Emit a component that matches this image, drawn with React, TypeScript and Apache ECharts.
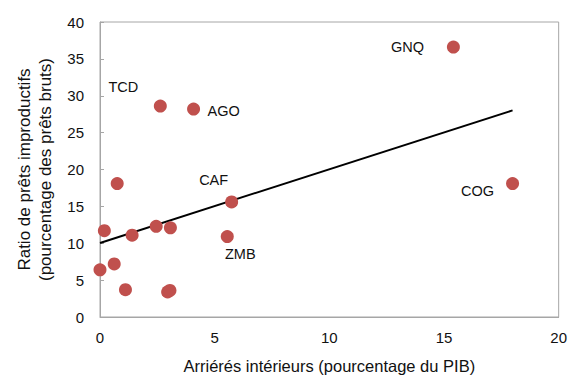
import React, { useEffect, useRef } from "react";
import * as echarts from "echarts";

// Domestic arrears (% of GDP)
const arrears: number[] = [0.0, 0.62, 1.11, 0.19, 1.4, 0.75, 2.63, 4.08, 2.45, 3.07, 2.95, 3.05, 5.74, 5.55, 15.41, 17.99];
// Non-performing loans ratio (% of gross loans)
const npl: number[] = [6.4, 7.2, 3.7, 11.7, 11.1, 18.1, 28.6, 28.2, 12.3, 12.1, 3.4, 3.6, 15.6, 10.9, 36.6, 18.1];
// Country codes ('' = unlabelled)
const codes: string[] = ["", "", "", "", "", "", "TCD", "AGO", "", "", "", "", "CAF", "ZMB", "GNQ", "COG"];

const xTicks = { min: 0, max: 20, interval: 5 };
const yTicks = { min: 0, max: 40, interval: 5 };

// label offsets (style only)
const labelOffsets: Record<string, [number, number]> = {
  TCD: [-37, -19],
  AGO: [30, 2],
  CAF: [-18, -22],
  ZMB: [13, 17],
  GNQ: [-46, 0],
  COG: [-35, 7],
};

function regression(xs: number[], ys: number[]) {
  const n = xs.length;
  const mx = xs.reduce((a, b) => a + b, 0) / n;
  const my = ys.reduce((a, b) => a + b, 0) / n;
  let sxy = 0;
  let sxx = 0;
  for (let i = 0; i < n; i++) {
    sxy += (xs[i] - mx) * (ys[i] - my);
    sxx += (xs[i] - mx) * (xs[i] - mx);
  }
  const slope = sxy / sxx;
  const intercept = my - slope * mx;
  return { slope, intercept };
}

const FONT = "'Liberation Sans', Arial, sans-serif";

export default function App() {
  const ref = useRef<HTMLDivElement>(null);
  useEffect(() => {
    if (!ref.current) return;
    const chart = echarts.init(ref.current, undefined, { renderer: "svg" });
    const { slope, intercept } = regression(arrears, npl);
    const xMin = Math.min(...arrears);
    const xMax = Math.max(...arrears);
    const points = arrears.map((x, i) => {
      const code = codes[i];
      const item: any = { value: [x, npl[i]], name: code };
      if (code) {
        item.label = {
          show: true,
          formatter: code,
          position: "inside",
          offset: labelOffsets[code] || [0, 0],
          color: "#111",
          fontSize: 14.5,
          fontFamily: FONT,
        };
      }
      return item;
    });
    chart.setOption({
      animation: false,
      textStyle: { fontFamily: FONT },
      grid: {
        left: 100,
        right: 8,
        top: 22,
        bottom: 61,
        show: true,
        borderColor: "#a6a6a6",
        borderWidth: 1,
      },
      xAxis: {
        type: "value",
        min: xTicks.min,
        max: xTicks.max,
        interval: xTicks.interval,
        name: "Arriérés intérieurs (pourcentage du PIB)",
        nameLocation: "middle",
        nameGap: 40,
        nameTextStyle: { fontSize: 16.5, color: "#111", fontFamily: FONT },
        axisLine: { show: true, lineStyle: { color: "#a6a6a6" } },
        axisTick: { show: false },
        splitLine: { show: false },
        axisLabel: { fontSize: 15, color: "#111", margin: 13, fontFamily: FONT },
      },
      yAxis: {
        type: "value",
        min: yTicks.min,
        max: yTicks.max,
        interval: yTicks.interval,
        name: "Ratio de prêts improductifs\n(pourcentage des prêts bruts)",
        nameLocation: "middle",
        nameRotate: 90,
        nameGap: 43,
        nameTextStyle: { fontSize: 17, color: "#111", lineHeight: 21, fontFamily: FONT },
        axisLine: { show: true, lineStyle: { color: "#a6a6a6" } },
        axisTick: { show: true, inside: true, length: 4, lineStyle: { color: "#a6a6a6" } },
        splitLine: { show: false },
        axisLabel: { fontSize: 15, color: "#111", margin: 16, fontFamily: FONT },
      },
      series: [
        {
          type: "line",
          data: [
            [xMin, intercept + slope * xMin],
            [xMax, intercept + slope * xMax],
          ],
          symbol: "none",
          lineStyle: { color: "#000", width: 2 },
          silent: true,
          z: 1,
        },
        {
          type: "scatter",
          data: points,
          symbol: "circle",
          symbolSize: 13,
          itemStyle: { color: "#C0504D", opacity: 1 },
          emphasis: { disabled: true },
          z: 2,
        },
      ],
    });
    return () => chart.dispose();
  }, []);
  return (
    <div
      ref={ref}
      style={{ position: "absolute", left: 0, top: 0, width: 570, height: 379, background: "#fff" }}
    />
  );
}
